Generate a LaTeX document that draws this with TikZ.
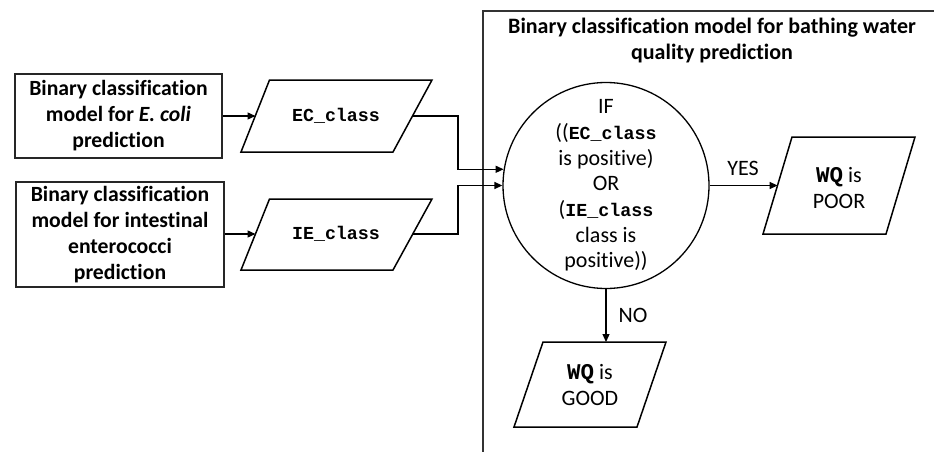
\documentclass[tikz,border=0pt]{standalone}
\usepackage{fontspec}
\setmainfont{Carlito}[Ligatures=NoCommon]
\setmonofont{Liberation Mono}
\usetikzlibrary{arrows.meta}
\newcommand{\cc}[1]{{\ttfamily\bfseries\fontsize{18.3}{25.7}\selectfont #1}}
\newcommand{\wq}{{\ttfamily\bfseries\fontsize{22.5}{25.7}\selectfont WQ}}
\tikzset{
  txt/.style={font=\fontsize{22}{25.7}\selectfont, align=center, inner sep=0pt},
  btxt/.style={font=\fontsize{22}{25.7}\selectfont\bfseries, align=center, inner sep=0pt},
  bigbtxt/.style={font=\fontsize{21.7}{26}\selectfont\bfseries, align=center, inner sep=0pt},
  modelbox/.style={draw=black!85, line width=1.8pt, bigbtxt},
  para/.style={draw, line width=1.5pt, line join=miter},
  arr/.style={line width=1.3pt, -{Triangle[length=8pt,width=7pt]}},
  cont/.style={draw=black!80, line width=2pt},
}
\begin{document}
\begin{tikzpicture}[x=1pt,y=-1pt]
\useasboundingbox (0,0) rectangle (934,452);
\clip (0,0) rectangle (934,452);

% container
\node[cont, minimum width=461pt, minimum height=460pt, anchor=north west, inner sep=0pt] (cont) at (482,10) {};
\node[btxt] (title) at (712,40.5) {Binary classification model for bathing water\\quality prediction};

% model boxes
\node[modelbox, minimum width=207pt, minimum height=84pt] (box1) at (118.5,116) {Binary classification\\model for \textit{E. coli}\\prediction};
\node[modelbox, minimum width=208pt, minimum height=105pt] (box2) at (120,234.5) {Binary classification\\model for intestinal\\enterococci\\prediction};

% EC parallelogram
\draw[para] (241,152) -- (269.5,80) -- (432,80) -- (393,152) -- cycle;
\node[txt] (ec) at (336,116) {\cc{EC\_class}};
\coordinate (ecin) at (255.5,116);
\coordinate (ecout) at (412.5,116);

% IE parallelogram
\draw[para] (241,270) -- (269.5,199) -- (432,199) -- (393,270) -- cycle;
\node[txt] (ie) at (336,234) {\cc{IE\_class}};
\coordinate (iein) at (255.5,234);
\coordinate (ieout) at (412.5,234);

% decision circle
\node[draw, circle, line width=1.3pt, minimum size=206pt, txt] (circ) at (606,185.5)
  {IF\\((\cc{EC\_class}\\is positive)\\OR\\(\cc{IE\_class}\\class is\\positive))};

% POOR parallelogram
\draw[para] (763,234) -- (792,137) -- (915,137) -- (886,234) -- cycle;
\node[txt] (poor) at (839,188) {\wq{} is\\POOR};
\coordinate (poorin) at (777.6,185.5);

% GOOD parallelogram
\draw[para] (514,427) -- (543,342) -- (666,342) -- (637,427) -- cycle;
\node[txt] (good) at (590,385) {\wq{} is\\GOOD};
\coordinate (goodin) at (606,342);

% connectors
\draw[arr] (box1.east |- ecin) -- (ecin);
\draw[arr] (box2.east |- iein) -- (iein);
\draw[arr] (ecout) -- ++(45.5,0) |- (circ.171);
\draw[arr] (ieout) -- ++(45.5,0) |- (circ.west);
\draw[arr] (circ.east) -- (poorin);
\draw[arr] (circ.south) -- (goodin);

\node[txt] (yes) at (743,168) {YES};
\node[txt] (no) at (633,315) {NO};
\end{tikzpicture}
\end{document}
